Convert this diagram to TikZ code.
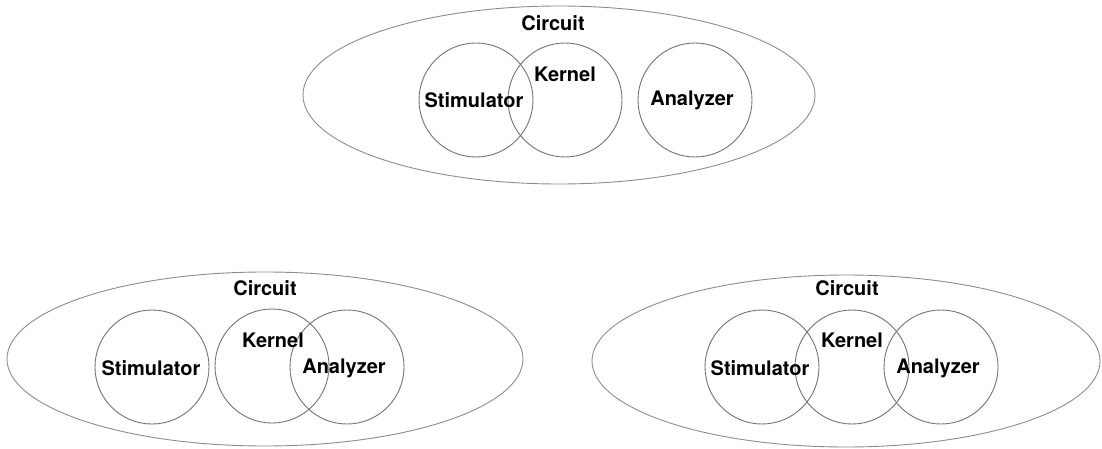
\documentclass[tikz,border=0pt]{standalone}
\usepackage{fontspec}
\setmainfont{TeX Gyre Heros}
\usetikzlibrary{shapes.geometric}
\begin{document}
\begin{tikzpicture}[x=1pt,y=-1pt,
  outer/.style={ellipse,draw=black!45,line width=0.9pt,inner sep=0pt},
  part/.style={circle,draw=black!55,line width=0.9pt,inner sep=0pt,minimum size=114pt},
  lbl/.style={font=\fontsize{20}{24}\selectfont\bfseries,inner sep=0pt}]
\useasboundingbox (0,0) rectangle (1102,449);
% top diagram
\node[outer,minimum width=512pt,minimum height=178pt] (c1) at (559,95) {};
\node[part] (s1) at (476,100) {};
\node[part] (k1) at (565,100) {};
\node[part] (a1) at (695,100) {};
\node[lbl] (tc1) at (553,23) {Circuit};
\node[lbl] (ts1) at (474,100) {Stimulator};
\node[lbl] (tk1) at (565,74) {Kernel};
\node[lbl] (ta1) at (692,100) {Analyzer};
% bottom left diagram
\node[outer,minimum width=516pt,minimum height=174pt] (c2) at (265,359) {};
\node[part] (s2) at (152,367) {};
\node[part] (k2) at (272,366) {};
\node[part] (a2) at (347,367) {};
\node[lbl] (tc2) at (265,288) {Circuit};
\node[lbl] (ts2) at (151,368) {Stimulator};
\node[lbl] (tk2) at (273,340) {Kernel};
\node[lbl] (ta2) at (344,368) {Analyzer};
% bottom right diagram
\node[outer,minimum width=508pt,minimum height=172pt] (c3) at (846,361) {};
\node[part] (s3) at (762,367) {};
\node[part] (k3) at (852,367) {};
\node[part] (a3) at (941,367) {};
\node[lbl] (tc3) at (847,288) {Circuit};
\node[lbl] (ts3) at (760,368) {Stimulator};
\node[lbl] (tk3) at (852,340) {Kernel};
\node[lbl] (ta3) at (938,368) {Analyzer};
\end{tikzpicture}
\end{document}
